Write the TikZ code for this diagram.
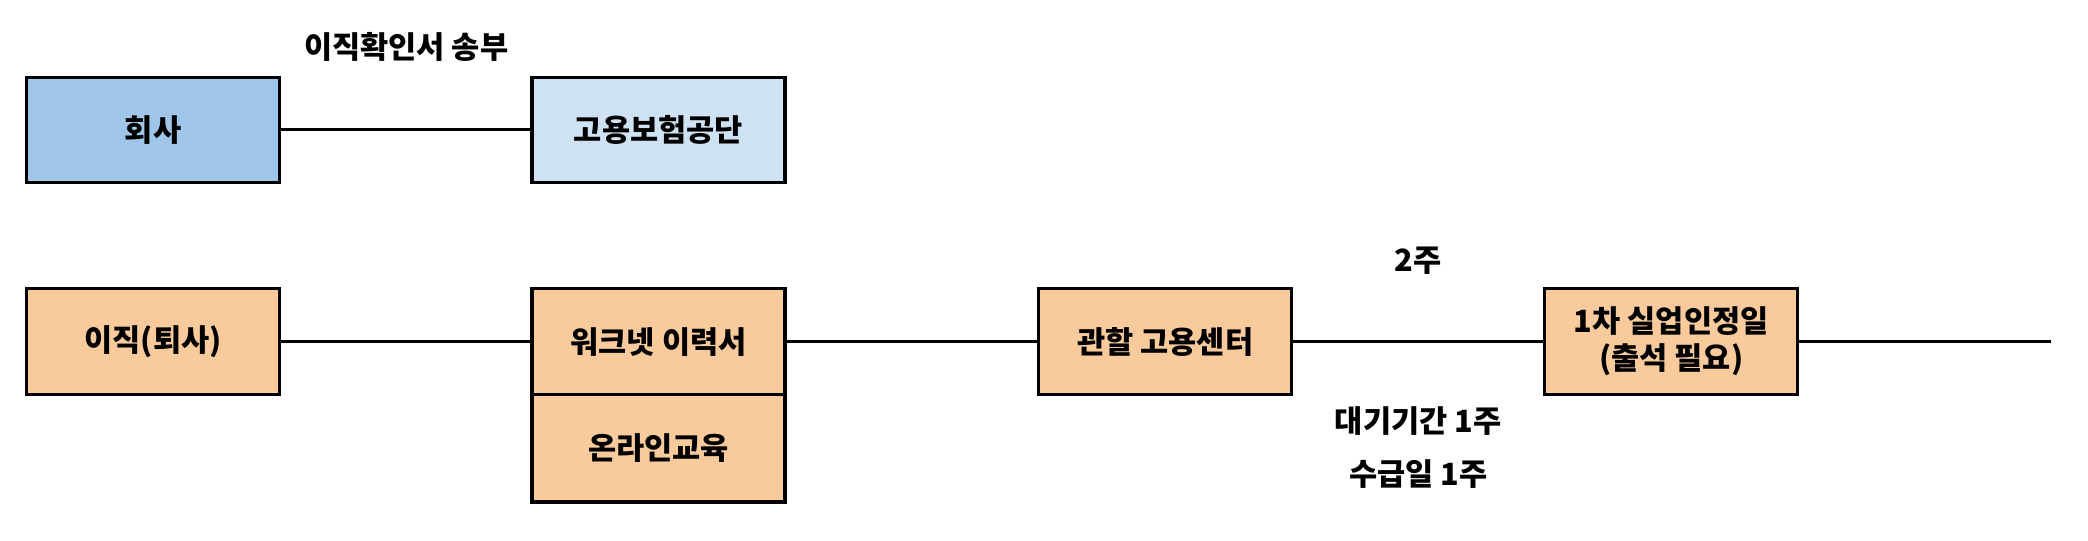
\documentclass[tikz,border=0pt]{standalone}
\usepackage{fontspec}
\setmainfont{Noto Sans CJK KR}
\definecolor{bluedark}{HTML}{9FC5E8}
\definecolor{bluelight}{HTML}{CFE2F3}
\definecolor{peach}{HTML}{F9CB9C}
\tikzset{
  stepbox/.style={draw,line width=2.3pt,minimum width=190pt,minimum height=79pt,inner sep=0pt,align=center,font=\fontsize{23}{28}\selectfont\bfseries},
  note/.style={inner sep=0pt,font=\fontsize{23}{28}\selectfont\bfseries}
}
\begin{document}
\begin{tikzpicture}[x=1pt,y=-1pt,line width=2.3pt]
      \useasboundingbox (0,0) rectangle (1568,406);
      \pgfmathsetmacro{\ra}{97.5}
      \pgfmathsetmacro{\rb}{256.5}

      % top row
      \node[stepbox,fill=bluedark] (hoesa) at (115,\ra) {회사};
      \node[stepbox,fill=bluelight] (gongdan) at (494.5,\ra) {고용보험공단};
      \node[note] (songbu) at (305,35) {이직확인서 송부};

      % bottom row
      \node[stepbox,fill=peach] (ijik) at (115,\rb) {이직(퇴사)};
      \node[stepbox,fill=peach] (worknet) at (494.5,\rb) {워크넷 이력서};
      \node[stepbox,fill=peach,minimum height=81pt] (edu) at (494.5,336.5) {온라인교육};
      \node[stepbox,fill=peach] (center) at (875,\rb) {관할 고용센터};
      \node[stepbox,fill=peach] (insung) at (1255,\rb) {1차 실업인정일\\(출석 필요)};
      \coordinate (end) at (1540,\rb);

      \node[note] (twoweek) at (1065,196) {2주};
      \node[note] (daegi) at (1065,316) {대기기간 1주};
      \node[note] (sugup) at (1065,356) {수급일 1주};

      \draw (hoesa) -- (gongdan);
      \draw (ijik) -- (worknet);
      \draw (worknet) -- (center);
      \draw (center) -- (insung);
      \draw (insung) -- (end);
    \end{tikzpicture}
\end{document}
